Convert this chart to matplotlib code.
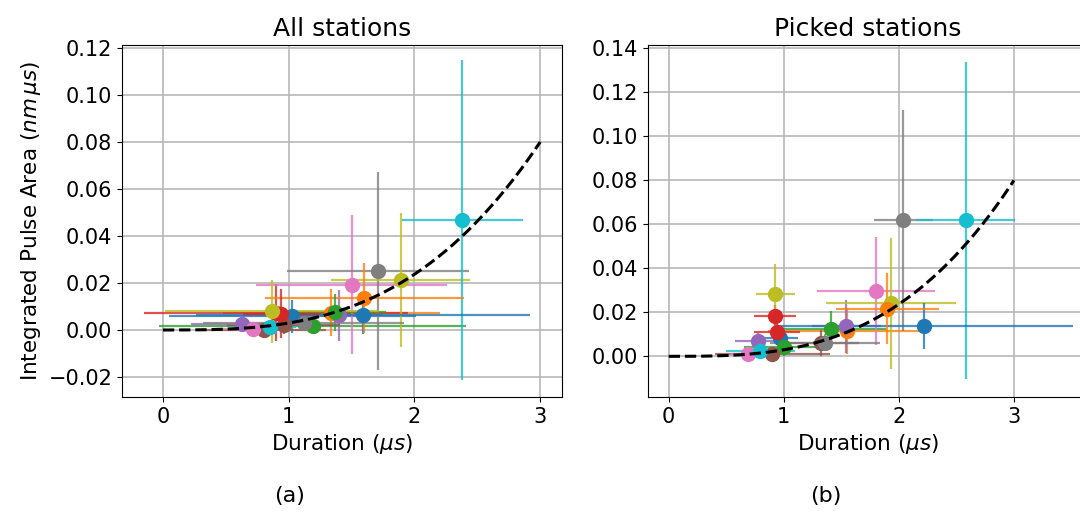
import matplotlib
matplotlib.use("Agg")
import matplotlib.pyplot as plt
import numpy as np
from matplotlib.colors import to_rgba

# all stations: duration (us), integrated pulse area (nm us) and their errors
all_dur = [1.03, 1.34, 1.19, 0.90, 1.40, 0.96, 1.50, 1.71, 1.89, 2.38,
           1.59, 1.60, 1.37, 0.94, 0.625, 0.80, 0.72, 1.12, 0.87, 0.855]
all_area = [0.0059, 0.0073, 0.0017, 0.0074, 0.0062, 0.0021, 0.0192, 0.0252, 0.0212, 0.0469,
            0.0062, 0.0136, 0.0075, 0.0070, 0.0025, 0.0000, 0.0003, 0.0028, 0.0079, 0.0011]
all_dur_err = [0.98, 0.86, 1.22, 1.05, 0.35, 0.45, 0.76, 0.725, 0.555, 0.48,
               1.33, 0.79, 0.40, 0.30, 0.40, 0.50, 0.30, 0.80, 0.85, 0.20]
all_area_err = [0.007, 0.010, 0.003, 0.012, 0.011, 0.004, 0.0295, 0.042, 0.0285, 0.068,
                0.008, 0.015, 0.008, 0.0105, 0.003, 0.003, 0.002, 0.003, 0.0135, 0.002]

# picked stations
pick_dur = [0.97, 1.55, 1.41, 0.925, 1.545, 1.32, 1.80, 2.04, 1.93, 2.58,
            2.22, 1.90, 1.00, 0.94, 0.78, 0.90, 0.685, 1.36, 0.925, 0.795]
pick_area = [0.0084, 0.0114, 0.0125, 0.0185, 0.0137, 0.0060, 0.0298, 0.0617, 0.0240, 0.0617,
             0.0137, 0.0217, 0.0042, 0.0110, 0.0068, 0.0012, 0.0012, 0.0062, 0.0283, 0.0023]
pick_dur_err = [0.15, 0.69, 0.48, 0.18, 0.30, 0.33, 0.51, 0.26, 0.565, 0.43,
                1.29, 0.45, 0.35, 0.20, 0.20, 0.50, 0.15, 0.48, 0.17, 0.30]
pick_area_err = [0.004, 0.0105, 0.008, 0.005, 0.012, 0.006, 0.0245, 0.050, 0.0296, 0.072,
                 0.0105, 0.016, 0.004, 0.006, 0.004, 0.002, 0.002, 0.004, 0.0137, 0.003]

# fitted model: area = a * duration^3
fit_a = 0.00296
fit_pow = 3
fit_range = (0, 3)

plt.rcParams["font.size"] = 15


def draw_panel(ax, dur, area, dur_err, area_err, title):
    colors = plt.rcParams["axes.prop_cycle"].by_key()["color"]
    for i in range(len(dur)):
        c = colors[i % len(colors)]
        ax.errorbar(dur[i], area[i], xerr=dur_err[i], yerr=area_err[i], fmt="o",
                    color=c, ecolor=to_rgba(c, 0.8), markersize=10, elinewidth=1.6)
    xf = np.linspace(fit_range[0], fit_range[1], 200)
    ax.plot(xf, fit_a * xf ** fit_pow, "k--", lw=2.2, zorder=5)
    ax.grid(True, color="#b8b8b8", lw=1.2)
    ax.set_axisbelow(True)
    ax.set_title(title, fontsize=18)
    ax.set_xlabel(r"Duration ($\mu s$)", fontsize=15.5)


fig = plt.figure(figsize=(10.8, 5.15), dpi=100)
ax1 = fig.add_axes([0.113, 0.229, 0.407, 0.684])
ax2 = fig.add_axes([0.600, 0.229, 0.407, 0.684])

draw_panel(ax1, all_dur, all_area, all_dur_err, all_area_err, "All stations")
ax1.set_xlim(-0.325, 3.17)
ax1.set_ylim(-0.0285, 0.1212)
ax1.set_xticks([0, 1, 2, 3])
ax1.set_yticks(np.arange(-0.02, 0.121, 0.02))
ax1.set_ylabel(r"Integrated Pulse Area ($nm\,\mu s$)", fontsize=15.5)

draw_panel(ax2, pick_dur, pick_area, pick_dur_err, pick_area_err, "Picked stations")
ax2.set_xlim(-0.18, 3.64)
ax2.set_ylim(-0.0185, 0.1415)
ax2.set_xticks([0, 1, 2, 3])
ax2.set_yticks(np.arange(0, 0.141, 0.02))

fig.text(0.268, 0.037, "(a)", ha="center", va="center", fontsize=16)
fig.text(0.765, 0.037, "(b)", ha="center", va="center", fontsize=16)

fig.savefig("out.png", dpi=100)
